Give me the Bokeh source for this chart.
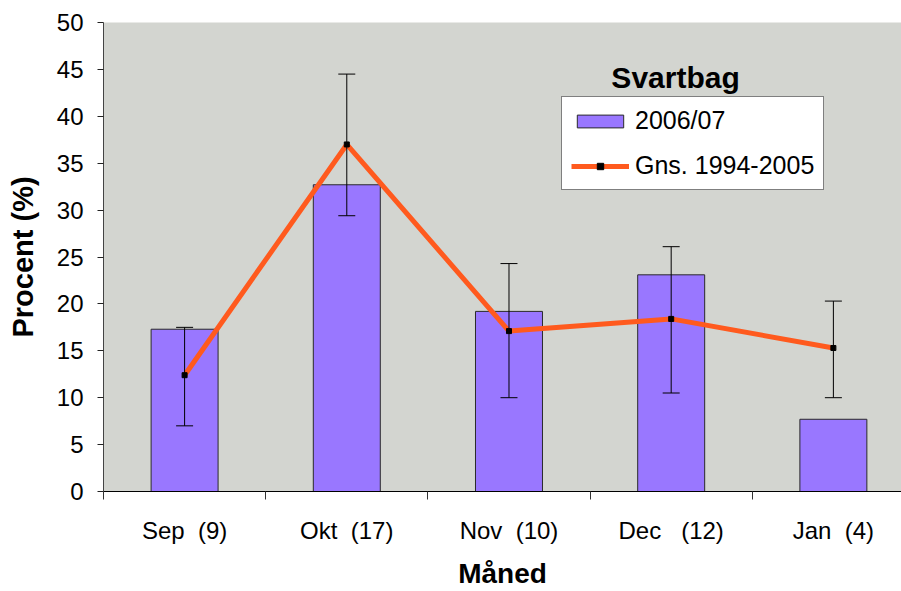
from bokeh.plotting import figure
from bokeh.models import (Range1d, FixedTicker, Whisker, TeeHead, ColumnDataSource,
                          Legend, LegendItem, Label)
from bokeh.embed import file_html
from bokeh.resources import INLINE

# ---- data ----
months = ["Sep \u00a0(9)", "Okt \u00a0(17)", "Nov \u00a0(10)", "Dec \u00a0\u00a0(12)", "Jan \u00a0(4)"]
season_0607 = [17.3, 32.7, 19.2, 23.1, 7.7]
mean_94_05 = [12.4, 37.0, 17.1, 18.4, 15.3]
err_upper = [17.5, 44.5, 24.3, 26.1, 20.3]
err_lower = [7.0, 29.4, 10.0, 10.5, 10.0]
y_ticks = [0, 5, 10, 15, 20, 25, 30, 35, 40, 45, 50]

centers = [i + 0.5 for i in range(len(months))]
bounds = [i for i in range(len(months))]

FONT = "Liberation Sans"

p = figure(width=901, height=591, output_backend="svg", toolbar_location=None,
           x_range=Range1d(0, 4.92), y_range=Range1d(0, 50),
           min_border_left=103, min_border_top=22, min_border_right=0,
           min_border_bottom=100)
p.background_fill_color = "#D3D5D0"
p.border_fill_color = "white"
p.outline_line_color = None
p.xgrid.visible = False
p.ygrid.visible = False

src = ColumnDataSource(dict(x=centers, season=season_0607, mean=mean_94_05,
                            up=err_upper, lo=err_lower))

bars = p.vbar(x="x", top="season", width=0.413, source=src,
              fill_color="#9977FF", line_color="#2A2A2A", line_width=1)

ln = p.line(x="x", y="mean", source=src, line_color="#FF5A1E", line_width=5)

wh = Whisker(base="x", upper="up", lower="lo", source=src, level="annotation",
             line_color="black", line_width=1,
             upper_head=TeeHead(size=17, line_color="black", line_width=1),
             lower_head=TeeHead(size=17, line_color="black", line_width=1))
p.add_layout(wh)

mk = p.scatter(x="x", y="mean", source=src, marker="square", size=5,
               fill_color="black", line_color="black")

# axes
yax = p.yaxis[0]
yax.ticker = FixedTicker(ticks=y_ticks, minor_ticks=[])
yax.major_label_text_font = FONT
yax.major_label_text_font_size = "24px"
yax.major_label_text_color = "black"
yax.major_tick_out = 6
yax.major_tick_in = 0
yax.major_label_standoff = 14
yax.axis_line_color = "#444444"
yax.major_tick_line_color = "#222222"
yax.axis_label = "Procent (%)"
yax.axis_label_text_font = FONT
yax.axis_label_text_font_style = "bold"
yax.axis_label_text_font_size = "29px"
yax.axis_label_standoff = 15
yax.axis_label_text_color = "black"

xax = p.xaxis[0]
xax.ticker = FixedTicker(ticks=centers, minor_ticks=bounds)
xax.major_label_overrides = {c: m for c, m in zip(centers, months)}
xax.major_tick_out = 0
xax.major_tick_in = 0
xax.minor_tick_out = 8
xax.minor_tick_in = 0
xax.minor_tick_line_color = "#333333"
xax.major_label_text_font = FONT
xax.major_label_text_font_size = "24px"
xax.major_label_text_color = "black"
xax.major_label_standoff = 17
xax.axis_line_color = "black"
xax.axis_label = "Måned"
xax.axis_label_text_font = FONT
xax.axis_label_text_font_style = "bold"
xax.axis_label_text_font_size = "28px"
xax.axis_label_standoff = 11
xax.axis_label_text_color = "black"

# title inside plot
title = Label(x=3.527, y=44.1, text="Svartbag", text_align="center",
              text_baseline="alphabetic", text_font=FONT,
              text_font_style="bold", text_font_size="30px", text_color="black")
p.add_layout(title)

legend = Legend(items=[LegendItem(label="2006/07", renderers=[bars]),
                       LegendItem(label="Gns. 1994-2005", renderers=[ln, mk])],
                location=(458, 301), orientation="vertical",
                label_text_font=FONT, label_text_font_size="25px",
                label_text_color="black",
                glyph_width=58, glyph_height=16, label_standoff=6,
                padding=9, spacing=16, margin=0,
                border_line_color="black", border_line_width=1,
                background_fill_color="white", background_fill_alpha=1.0)
p.add_layout(legend)

open("out.html", "w").write(file_html(p, INLINE))
